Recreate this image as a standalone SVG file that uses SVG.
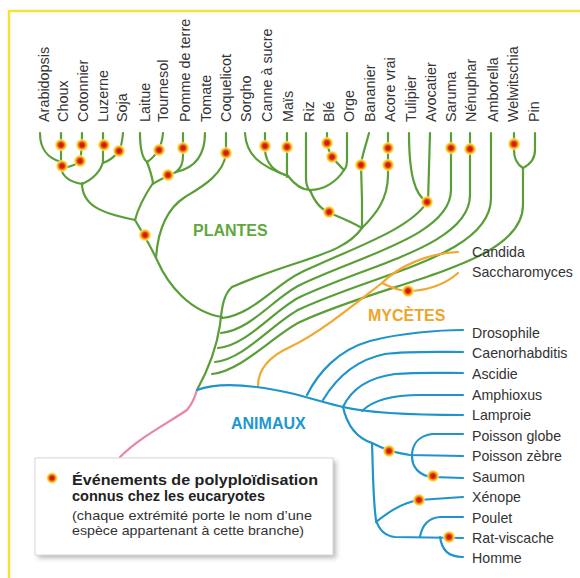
<svg xmlns="http://www.w3.org/2000/svg" width="580" height="578" viewBox="0 0 580 578">
<defs>
<radialGradient id="wgd">
<stop offset="0" stop-color="#c8160a"/>
<stop offset="0.35" stop-color="#d9260c"/>
<stop offset="0.55" stop-color="#f08a1e"/>
<stop offset="0.78" stop-color="#fbd93c"/>
<stop offset="1" stop-color="#fff7b0" stop-opacity="0.2"/>
</radialGradient>
<filter id="sh" x="-10%" y="-10%" width="130%" height="140%">
<feGaussianBlur stdDeviation="2.5"/>
</filter>
<style>
.g{fill:none;stroke:#5a9e38;stroke-width:2.2;stroke-linecap:round}
.b{fill:none;stroke:#1f94cc;stroke-width:2.2;stroke-linecap:round}
.o{fill:none;stroke:#f0a830;stroke-width:2.2;stroke-linecap:round}
.p{fill:none;stroke:#e784a8;stroke-width:2.2;stroke-linecap:round}
.lv{font-family:"Liberation Sans",Arial,sans-serif;font-size:14.4px;fill:#333}
.lr{font-family:"Liberation Sans",Arial,sans-serif;font-size:14.2px;fill:#333}
.grp{font-family:"Liberation Sans",Arial,sans-serif;font-size:16px;font-weight:bold}
.lb{font-family:"Liberation Sans",Arial,sans-serif;font-size:15px;font-weight:bold;fill:#222}
.ls{font-family:"Liberation Sans",Arial,sans-serif;font-size:13px;fill:#333}
</style>
</defs>
<rect x="0" y="0" width="580" height="578" fill="#ffffff"/>
<path d="M9,578 L9,11 L580,11" fill="none" stroke="#f3e23c" stroke-width="2.5"/>

<g id="connectors">
<!-- eudicots -->
<path class="g" d="M40,133 C40,150 48,158 61,162"/>
<path class="g" d="M61,133 L61,168"/>
<path class="g" d="M82,133 C82,148 81,156 80,161 C76,165 70,167 62,168"/>
<path class="g" d="M61,167 C62,177 70,182 82,184"/>
<path class="g" d="M103,133 L103,163"/>
<path class="g" d="M123,133 C122,144 120,150 118,152 C114,157 109,161 103,163"/>
<path class="g" d="M103,162 C100,173 91,180 82,184"/>
<path class="g" d="M82,183 C82,205 100,213 135,220"/>
<path class="g" d="M140,133 C140,150 142,158 147,162"/>
<path class="g" d="M163,133 C162,145 158,155 147,162"/>
<path class="g" d="M147,162 C150,170 152,176 153,183"/>
<path class="g" d="M183,133 L183,156 C183,164 180,169 176,172"/>
<path class="g" d="M205,133 C205,155 195,168 176,172"/>
<path class="g" d="M176,172 C168,176 158,180 153,184"/>
<path class="g" d="M153,183 C145,195 138,208 135,220"/>
<path class="g" d="M135,220 C142,232 150,245 157,260 C168,285 190,312 222,317"/>
<path class="g" d="M226,133 L226,153 C224,175 200,188 185,197 C168,208 158,228 156,258"/>
<!-- monocots -->
<path class="g" d="M245,133 C246,155 260,166 288,176"/>
<path class="g" d="M265,133 L265,150 C266,165 275,172 288,176"/>
<path class="g" d="M287,133 L287,177"/>
<path class="g" d="M288,176 C295,185 303,190 310,190 C325,190 337,181 344,170"/>
<path class="g" d="M327,133 L327,143 C328,150 331,155 333,158 C337,163 341,167 344,170"/>
<path class="g" d="M347,133 L347,160 C347,165 346,168 344,170"/>
<path class="g" d="M306,133 L306,178 C306,185 308,189 310,191"/>
<path class="g" d="M310,190 C315,203 322,210 330,213 C342,218 352,222 362,228"/>
<path class="g" d="M369,133 C366,145 362,155 361,165 L362,200 C362,212 362,220 362,228"/>
<path class="g" d="M388,133 L388,175 C388,200 375,215 362,228"/>
<!-- magnoliids -->
<path class="g" d="M409,133 C409,175 415,195 427,202"/>
<path class="g" d="M430,133 L428,202"/>
<!-- gymnosperms -->
<path class="g" d="M514,133 L514,150 C514,160 518,165 523,168"/>
<path class="g" d="M535,133 L535,150 C535,160 529,165 523,168"/>
<!-- spine and fan -->
<path class="g" d="M197,390 C208,370 217,345 220,325 C222,305 224,294 232,287"/>
<path class="g" d="M232,287 C255,277 275,270 300,262 C330,252 350,245 362,228"/>
<path class="g" d="M222,318 C252,315 275,285 300,273 C350,249 410,230 427,202"/>
<path class="g" d="M221,333 C251,330 275,297 300,285 C360,256 451,235 451,190 L451,133"/>
<path class="g" d="M218,348 C248,345 275,309 300,297 C370,264 470,245 470,195 L470,133"/>
<path class="g" d="M215,362 C245,359 275,321 300,309 C380,272 491,255 491,198 L491,133"/>
<path class="g" d="M212,374 C242,371 275,334 300,322 C390,280 523,265 523,205 L523,168"/>
<!-- fungi -->
<path class="o" d="M258,386 C258,372 266,358 290,347 C320,333 360,300 382,283"/>
<path class="o" d="M382,283 C400,265 430,253 458,252"/>
<path class="o" d="M382,283 C392,288 400,291 408,291 C425,291 445,285 458,273"/>
<!-- root -->
<path class="p" d="M120,457 C140,437 168,423 187,410 C192,404 195,397 197,390"/>
<!-- animals -->
<path class="b" d="M197,390 C213,384 240,382 290,393 C310,398 330,404 343,407"/>
<path class="b" d="M307,395 C318,373 338,350 370,341 C400,333 440,330 463,330"/>
<path class="b" d="M323,400 C335,380 355,360 385,354 C410,351 440,352 463,352"/>
<path class="b" d="M343,407 C350,392 365,378 395,374 C420,372 445,373 463,373"/>
<path class="b" d="M343,407 C360,411 400,415 463,415"/>
<path class="b" d="M362,411 C372,401 390,395 420,395 L463,395"/>
<path class="b" d="M343,407 C347,425 357,438 372,443"/>
<path class="b" d="M372,443 C380,447 390,452 410,455 L463,456"/>
<path class="b" d="M463,434 L432,434 C418,436 412,445 412,456 C412,468 420,476 433,477 L463,478"/>
<path class="b" d="M372,443 C373,470 373,500 376,520 C379,530 385,536 395,537 L463,538"/>
<path class="b" d="M376,522 C385,515 400,503 419,500 L463,497"/>
<path class="b" d="M420,537 C422,525 428,518 440,517 L463,517"/>
<path class="b" d="M440,537 C442,550 448,557 463,557"/>
</g>

<g id="wgd-events" fill="url(#wgd)">
<circle cx="61" cy="145" r="6.5"/><circle cx="82" cy="145" r="6.5"/><circle cx="104" cy="145" r="6.5"/><circle cx="119" cy="151" r="6.5"/>
<circle cx="62" cy="166" r="6.5"/><circle cx="80" cy="161" r="6.5"/><circle cx="159" cy="150" r="6.5"/><circle cx="183" cy="148" r="6.5"/>
<circle cx="168" cy="175" r="6.5"/><circle cx="145" cy="235" r="6.5"/><circle cx="226" cy="153" r="6.5"/><circle cx="265" cy="146" r="6.5"/>
<circle cx="287" cy="147" r="6.5"/><circle cx="327" cy="143" r="6.5"/><circle cx="332" cy="157" r="6.5"/><circle cx="361" cy="165" r="6.5"/>
<circle cx="388" cy="148" r="6.5"/><circle cx="388" cy="165" r="6.5"/><circle cx="329" cy="212" r="6.5"/><circle cx="427" cy="202" r="6.5"/>
<circle cx="451" cy="148" r="6.5"/><circle cx="470" cy="149" r="6.5"/><circle cx="514" cy="144" r="6.5"/>
<circle cx="408" cy="291" r="6.5"/>
<circle cx="389" cy="451" r="6.5"/><circle cx="433" cy="476" r="6.5"/><circle cx="419" cy="500" r="6.5"/><circle cx="449" cy="537" r="6.5"/>
</g>

<g id="plant-labels" class="lv">
<text transform="translate(49,122) rotate(-90)">Arabidopsis</text>
<text transform="translate(68,122) rotate(-90)">Choux</text>
<text transform="translate(88,122) rotate(-90)">Cotonnier</text>
<text transform="translate(108,122) rotate(-90)">Luzerne</text>
<text transform="translate(127,122) rotate(-90)">Soja</text>
<text transform="translate(150,122) rotate(-90)">Laitue</text>
<text transform="translate(168,122) rotate(-90)">Tournesol</text>
<text transform="translate(190,122) rotate(-90)">Pomme de terre</text>
<text transform="translate(211,122) rotate(-90)">Tomate</text>
<text transform="translate(231,122) rotate(-90)">Coquelicot</text>
<text transform="translate(251,122) rotate(-90)">Sorgho</text>
<text transform="translate(272,122) rotate(-90)">Canne à sucre</text>
<text transform="translate(293,122) rotate(-90)">Maïs</text>
<text transform="translate(314,122) rotate(-90)">Riz</text>
<text transform="translate(334,122) rotate(-90)">Blé</text>
<text transform="translate(354,122) rotate(-90)">Orge</text>
<text transform="translate(375,122) rotate(-90)">Bananier</text>
<text transform="translate(395,122) rotate(-90)">Acore vrai</text>
<text transform="translate(416,122) rotate(-90)">Tulipier</text>
<text transform="translate(436,122) rotate(-90)">Avocatier</text>
<text transform="translate(456,122) rotate(-90)">Saruma</text>
<text transform="translate(476,122) rotate(-90)">Nénuphar</text>
<text transform="translate(498,122) rotate(-90)">Amborella</text>
<text transform="translate(518,122) rotate(-90)">Welwitschia</text>
<text transform="translate(539,122) rotate(-90)">Pin</text>
</g>

<g id="right-labels" class="lr">
<text x="472" y="257">Candida</text>
<text x="472" y="277">Saccharomyces</text>
<text x="472" y="338">Drosophile</text>
<text x="472" y="358">Caenorhabditis</text>
<text x="472" y="379">Ascidie</text>
<text x="472" y="400">Amphioxus</text>
<text x="472" y="420">Lamproie</text>
<text x="472" y="441">Poisson globe</text>
<text x="472" y="461">Poisson zèbre</text>
<text x="472" y="482">Saumon</text>
<text x="472" y="502">Xénope</text>
<text x="472" y="523">Poulet</text>
<text x="472" y="543">Rat-viscache</text>
<text x="472" y="563">Homme</text>
</g>

<g id="group-labels" class="grp">
<text x="193" y="236" fill="#5fa83c">PLANTES</text>
<text x="368" y="321" fill="#eea52a">MYCÈTES</text>
<text x="231" y="429" fill="#1c97d2">ANIMAUX</text>
</g>

<g id="legend">
<rect x="38" y="461" width="298" height="97" fill="#888" opacity="0.6" filter="url(#sh)"/>
<rect x="35" y="458" width="298" height="97" fill="#fff" stroke="#d8d8d8" stroke-width="1"/>
<circle cx="52" cy="478" r="6" fill="url(#wgd)"/>
<text class="lb" x="72" y="485" textLength="246" lengthAdjust="spacingAndGlyphs">Événements de polyploïdisation</text>
<text class="lb" x="72" y="501" textLength="193" lengthAdjust="spacingAndGlyphs">connus chez les eucaryotes</text>
<text class="ls" x="72" y="520" textLength="240" lengthAdjust="spacingAndGlyphs">(chaque extrémité porte le nom d’une</text>
<text class="ls" x="72" y="535" textLength="232" lengthAdjust="spacingAndGlyphs">espèce appartenant à cette branche)</text>
</g>
</svg>
